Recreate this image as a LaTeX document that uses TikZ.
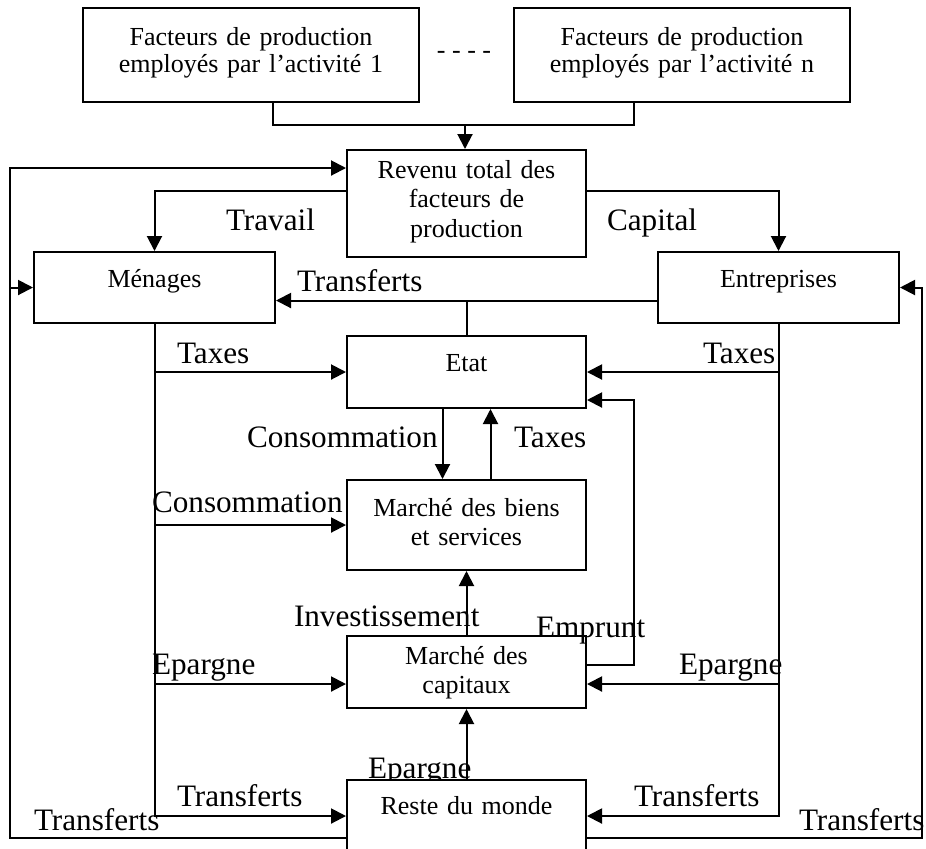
\documentclass[tikz,border=0pt]{standalone}
\usepackage{fontspec}
\setmainfont{Liberation Serif}
\usetikzlibrary{arrows.meta}

\tikzset{
  box/.style={draw, fill=white, anchor=north, inner sep=0pt, align=center,
    font=\fontsize{13}{14.75}\selectfont},
  topbox/.style={box, text width=168pt, text height=18.5pt, text depth=28.5pt,
    font=\fontsize{13}{13.75}\selectfont},
  midbox/.style={box, text width=119.5pt},
  sidebox/.style={box, text width=120.5pt, text height=17.5pt, text depth=18pt},
  lab/.style={inner sep=0pt, anchor=base west, font=\fontsize{15.6}{18}\selectfont},
  arr/.style={-{Triangle[length=7.5pt,width=7.5pt]}}
}

\begin{document}
\begin{tikzpicture}[x=0.5pt, y=-0.5pt, line width=1pt]
    \useasboundingbox (0,0) rectangle (926,848);

    % Facteurs de production
    \node[topbox] (fact1) at (251,7) {Facteurs de production\\employés par l’activité 1};
    \node[topbox] (factn) at (682,7) {Facteurs de production\\employés par l’activité n};
    \node[inner sep=0pt, anchor=base, font=\fontsize{13}{14.75}\selectfont] (points) at (464,58) {- - - -};

    % Agents et marches
    \node[midbox, text height=14pt, text depth=39.5pt] (revenu) at (466.5,149) {Revenu total des\\facteurs de\\production};
    \node[sidebox] (menages) at (154.5,251) {Ménages};
    \node[sidebox] (entreprises) at (778.5,251) {Entreprises};
    \node[midbox, text height=17.5pt, text depth=18.5pt] (etat) at (466.5,335) {Etat};
    \node[midbox, text height=18pt, text depth=27pt] (biens) at (466.5,479) {Marché des biens\\et services};
    \node[midbox, text height=14pt, text depth=22pt] (capitaux) at (466.5,635) {Marché des\\capitaux};
    \node[lab] (epargnemonde) at (367,778) {Epargne};
    \node[midbox, text height=17pt, text depth=19pt] (reste) at (466.5,779) {Reste du monde};

    % Revenu des facteurs
    \coordinate (jtop) at (465,125);
    \draw ([xshift=11pt]fact1.south) |- (jtop) -| ([xshift=-24pt]factn.south);
    \draw[arr] (jtop) -- (jtop |- revenu.north);
    \draw[arr] ([yshift=-21pt]revenu.north west) -| (menages.north);
    \draw[arr] ([yshift=-21pt]revenu.north east) -| (entreprises.north);

    % Transferts des entreprises
    \coordinate (tr) at ([yshift=-6.5pt]entreprises.west);
    \draw[arr] (tr) -- (tr -| menages.east);
    \draw (tr -| etat.north) -- (etat.north);

    % Menages
    \coordinate (capin) at ([yshift=-6pt]capitaux.west);
    \coordinate (capout) at ([yshift=-6pt]capitaux.east);
    \draw[arr] (menages.south) |- (reste.west);
    \draw[arr] (menages.south |- etat.west) -- (etat.west);
    \draw[arr] (menages.south |- biens.west) -- (biens.west);
    \draw[arr] (capin -| menages.south) -- (capin);

    % Entreprises
    \draw[arr] (entreprises.south) |- (reste.east);
    \draw[arr] (entreprises.south |- etat.east) -- (etat.east);
    \draw[arr] (capout -| entreprises.south) -- (capout);

    % Etat et marches
    \draw[arr] ([xshift=-12pt]etat.south) -- ([xshift=-12pt]biens.north);
    \draw[arr] ([xshift=12pt]biens.north) -- ([xshift=12pt]etat.south);
    \draw[arr] (capitaux.north) -- (biens.south);
    \draw[arr] (reste.north) -- (capitaux.south);
    \coordinate (emp) at (634,400);
    \draw[arr] ([yshift=3.5pt]capitaux.east) -| (emp) -- (emp -| etat.east);

    % Reste du monde
    \coordinate (lout) at (10,838);
    \coordinate (rout) at (922,838);
    \draw[arr] (lout -| reste.west) -- (lout) |- ([yshift=-9.5pt]revenu.north west);
    \draw[arr] (lout |- menages.west) -- (menages.west);
    \draw[arr] (rout -| reste.east) -- (rout) |- (entreprises.east);

    % Flux
    \foreach \x/\y/\t [count=\i] in {225/230/Travail, 606/230/Capital, 296/291/Transferts,
        176/363/Taxes, 702/363/Taxes, 246/447/Consommation, 513/447/Taxes,
        151/512/Consommation, 293/626/Investissement, 535/637/Emprunt,
        151/674/Epargne, 678/674/Epargne, 176/806/Transferts, 33/830/Transferts,
        633/806/Transferts, 798/830/Transferts}
        \node[lab] (flux\i) at (\x,\y) {\t};
\end{tikzpicture}
\end{document}
